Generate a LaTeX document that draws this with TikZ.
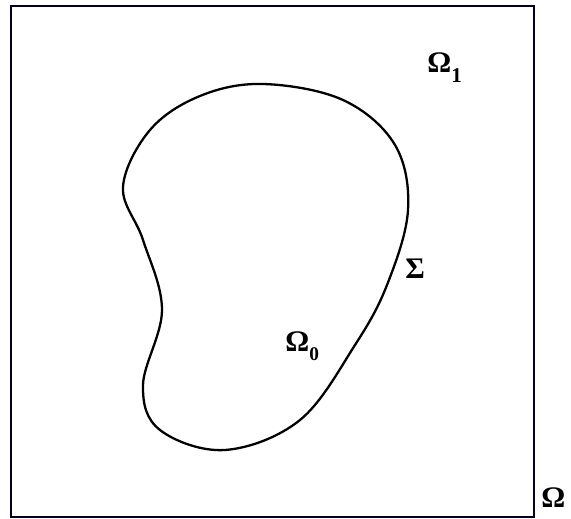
\documentclass[tikz,border=0pt]{standalone}
\usepackage{fontspec}
\setmainfont{Liberation Serif}
\begin{document}
\begin{tikzpicture}[x=0.02cm,y=-0.02cm,
  lbl/.style={inner sep=0pt, anchor=base west, font=\fontsize{17}{20}\selectfont\bfseries, text=black},
  frame/.style={draw=black!85!blue, line width=1.2pt},
  boundary/.style={draw=black, line width=1.3pt}]
\useasboundingbox (0,0) rectangle (571,519);
\node[frame, minimum width=0.02cm*523, minimum height=0.02cm*511, inner sep=0pt, anchor=north west] (box) at (10,5) {};
\draw[boundary] plot[smooth cycle, tension=0.6] coordinates {
 (263,84) (343,100) (395,145) (408,210) (387,285) (355,345)
 (300,420) (225,450) (160,430) (143,385) (162,310) (143,240)
 (123,187) (150,130) (200,96)};
\node[lbl] (om1) at (427,73) {Ω\raisebox{-0.32em}{\fontsize{12}{14}\selectfont 1}};
\node[lbl] (sig) at (405,279) {Σ};
\node[lbl] (om0) at (285,352) {Ω\raisebox{-0.28em}{\fontsize{11}{13}\selectfont 0}};
\node[lbl] (om) at (541,508) {Ω};
\end{tikzpicture}
\end{document}
